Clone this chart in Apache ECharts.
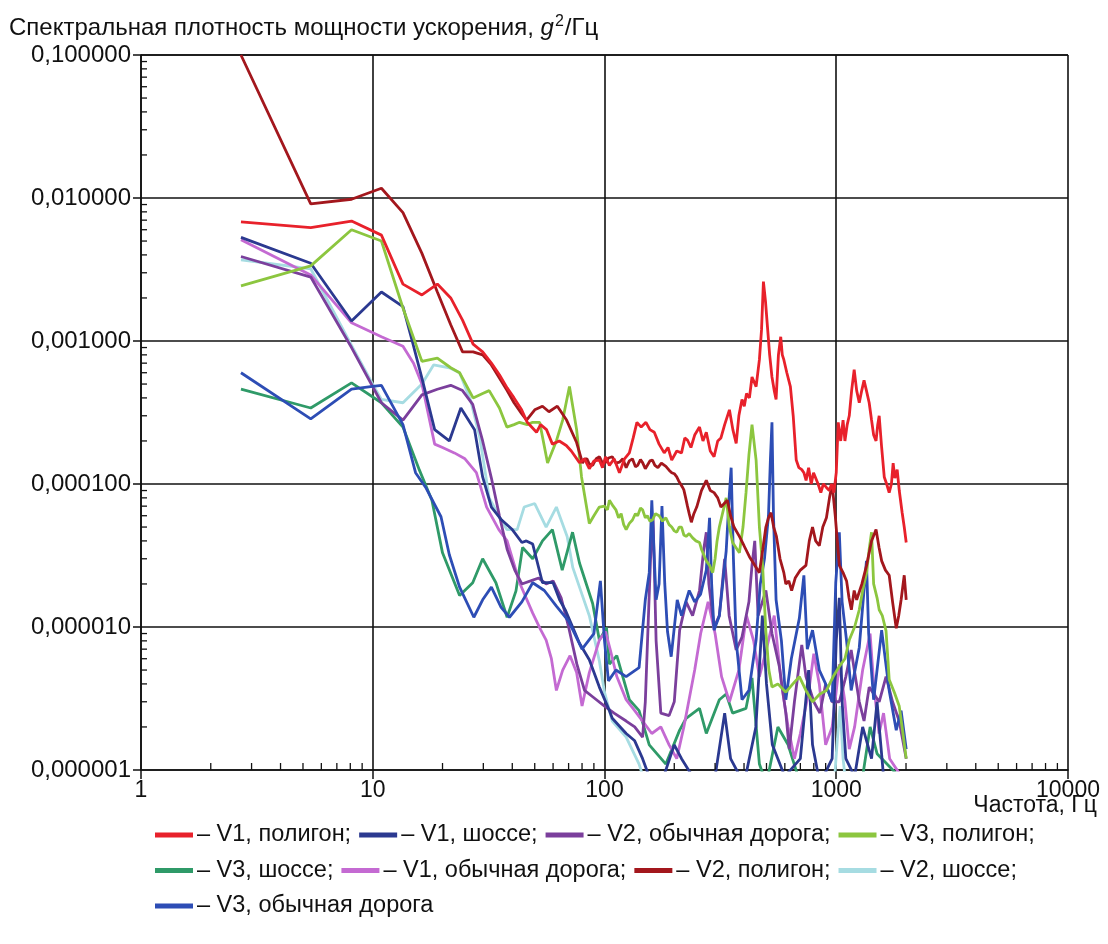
<!DOCTYPE html>
<html>
<head>
<meta charset="utf-8">
<script src="https://cdn.jsdelivr.net/npm/echarts@6/dist/echarts.min.js"></script>
<style>
  html, body { margin: 0; padding: 0; background: #fff; }
  #chart { width: 1108px; height: 944px; }
</style>
</head>
<body>
<div id="chart"></div>
<script>
// Acceleration power spectral density, g^2/Hz, pairs of [frequency Hz, PSD]
const v1Polygon = [[2.7,0.0068],[5.4,0.0062],[8.1,0.0069],[10.9,0.0055],[13.5,0.0025],[16.3,0.0021],[19,0.0025],[21.7,0.0020],[24.4,0.0014],[27.1,0.00095],[29.8,0.00084],[32.5,0.0007],[35.2,0.00058],[38,0.00047],[40.7,0.0004],[43.9,0.00033],[46.4,0.00027],[50.9,0.00023],[53,0.00026],[56.2,0.00024],[59.6,0.00019],[63.8,0.0002],[68.4,0.000186],[71.9,0.00017],[78,0.000141],[82,0.00015],[86,0.000128],[90,0.000145],[95,0.000147],[98,0.00013],[101,0.000155],[105,0.000135],[110,0.00015],[116,0.00012],[122,0.00015],[128,0.000165],[133,0.00021],[138,0.00027],[144,0.00025],[151,0.00027],[157,0.00024],[164,0.00023],[172,0.00019],[181,0.000165],[188,0.00018],[195,0.000147],[205,0.00017],[215,0.000165],[222,0.00021],[228,0.000203],[236,0.00018],[245,0.00022],[257,0.00025],[266,0.0002],[275,0.00023],[286,0.00017],[297,0.000155],[308,0.0002],[318,0.00021],[330,0.00026],[346,0.00033],[358,0.00024],[370,0.000192],[380,0.0003],[392,0.00039],[401,0.00035],[410,0.00043],[422,0.0004],[433,0.00056],[451,0.00048],[466,0.00074],[476,0.0012],[485,0.0026],[495,0.0019],[505,0.00125],[516,0.0008],[528,0.00056],[540,0.00045],[550,0.00039],[563,0.0008],[576,0.00107],[585,0.0008],[594,0.00074],[612,0.0006],[634,0.00048],[652,0.0003],[672,0.000147],[690,0.00013],[710,0.000126],[725,0.00012],[741,0.000106],[760,0.00013],[780,0.0001],[798,0.00012],[814,0.00012],[835,0.0001],[858,0.000087],[880,0.0001],[905,0.000095],[933,0.00009],[955,0.0001],[977,0.000087],[1000,0.00012],[1020,0.00027],[1045,0.0002],[1070,0.00028],[1090,0.0002],[1115,0.00026],[1138,0.0003],[1165,0.00045],[1195,0.00063],[1225,0.00045],[1257,0.00037],[1288,0.00045],[1318,0.00053],[1350,0.00045],[1387,0.00037],[1420,0.00028],[1450,0.00022],[1485,0.0002],[1510,0.00026],[1532,0.0003],[1570,0.00018],[1611,0.000112],[1650,0.0001],[1692,0.000087],[1730,0.0001],[1760,0.00014],[1790,0.00011],[1832,0.000126],[1870,0.00009],[1925,0.000063],[1965,0.00005],[2004,0.000039]];

const v2Polygon = [[2.7,0.1],[5.4,0.0091],[8.1,0.0098],[10.9,0.0117],[13.5,0.0079],[16.3,0.0041],[19,0.0022],[21.7,0.0013],[24.4,0.00084],[27.1,0.00084],[29.8,0.0008],[32.5,0.00068],[35.2,0.00055],[38,0.00045],[40.7,0.00037],[43.9,0.00031],[46.1,0.00028],[50,0.00033],[54,0.00035],[57.6,0.00032],[62.6,0.00035],[68.6,0.00028],[75.8,0.000195],[80.4,0.00014],[82,0.00015],[84,0.00015],[86,0.000138],[88.9,0.000135],[92,0.00015],[95.2,0.000155],[98,0.00014],[101.5,0.000142],[104,0.000152],[108,0.000155],[112,0.00014],[116,0.000142],[120,0.00015],[124,0.00013],[128,0.000145],[132,0.00015],[136,0.000132],[139,0.000135],[143,0.000148],[146,0.000141],[150,0.000128],[153,0.00013],[157,0.000145],[161,0.000147],[165,0.000135],[170,0.00013],[176,0.00014],[184,0.000133],[190,0.000125],[195,0.00012],[200,0.000118],[205,0.000112],[209,0.000105],[213,0.0001],[217,0.000095],[220,0.000091],[224,0.00008],[228,0.00007],[232,0.000062],[237,0.000054],[243,0.000062],[250,0.000069],[262,0.00009],[275,0.000106],[286,0.00009],[297,0.000087],[308,0.00008],[318,0.000069],[339,0.000077],[350,0.00006],[362,0.00005],[382,0.000043],[400,0.000037],[422,0.000031],[445,0.000027],[466,0.000024],[482,0.000035],[497,0.00005],[510,0.000058],[523,0.000063],[537,0.00005],[552,0.000043],[572,0.00003],[594,0.000024],[606,0.00002],[624,0.000021],[642,0.000018],[665,0.000022],[700,0.000025],[740,0.000027],[765,0.00004],[790,0.00005],[815,0.00004],[845,0.000037],[875,0.00005],[907,0.000058],[935,0.00008],[960,0.0001],[990,0.00006],[1031,0.000027],[1070,0.000024],[1108,0.000021],[1135,0.000016],[1162,0.0000132],[1195,0.000018],[1225,0.0000155],[1290,0.00002],[1352,0.000027],[1420,0.00004],[1485,0.000048],[1530,0.000036],[1570,0.000029],[1630,0.000025],[1692,0.000023],[1750,0.000015],[1815,0.0000098],[1860,0.000012],[1905,0.0000155],[1965,0.000023],[2004,0.0000155]];

const v3Polygon = [[2.7,0.00243],[5.4,0.00335],[8.1,0.006],[10.9,0.005],[13.5,0.0017],[16.3,0.00072],[19,0.00076],[21.7,0.00065],[23.7,0.0006],[27.1,0.0004],[29.8,0.00043],[31.8,0.00045],[35.2,0.00034],[37.9,0.00025],[40.7,0.00026],[43,0.00027],[46.4,0.00026],[49,0.00027],[52.5,0.00027],[56.8,0.00014],[62,0.0002],[66,0.00028],[70.6,0.00048],[75.8,0.00024],[79.6,0.000112],[86,0.000053],[90,0.00006],[95,0.000069],[100,0.00007],[103,0.000066],[105,0.000077],[109,0.00007],[112,0.000066],[115,0.000058],[118,0.000062],[121,0.000052],[124,0.000048],[128,0.000053],[132,0.000056],[136,0.000062],[139,0.00006],[143,0.000068],[146,0.000066],[150,0.000058],[153,0.00006],[157,0.000055],[161,0.000056],[166,0.000062],[172,0.00006],[178,0.000055],[184,0.000058],[190,0.000052],[195,0.00005],[200,0.000047],[205,0.000046],[210,0.00005],[215,0.00005],[220,0.000044],[225,0.000043],[232,0.000045],[240,0.000042],[248,0.00004],[257,0.000039],[262,0.000035],[266,0.000033],[270,0.000031],[275,0.000029],[284,0.000027],[293,0.000024],[300,0.00003],[306,0.00004],[313,0.00005],[335,0.00008],[346,0.00005],[357,0.000039],[382,0.000033],[396,0.00005],[408,0.000087],[420,0.00016],[433,0.00026],[451,0.000147],[466,0.00005],[481,0.000027],[497,0.0000093],[512,0.000005],[528,0.0000038],[560,0.000004],[606,0.0000035],[650,0.000004],[693,0.0000045],[740,0.0000036],[790,0.000003],[850,0.0000034],[907,0.0000036],[970,0.0000045],[1031,0.0000053],[1090,0.000006],[1138,0.0000081],[1200,0.00001],[1257,0.0000132],[1300,0.000018],[1352,0.000024],[1387,0.000035],[1420,0.000046],[1450,0.00002],[1500,0.000016],[1532,0.0000132],[1580,0.000012],[1640,0.0000094],[1692,0.0000043],[1780,0.0000035],[1869,0.0000028],[1940,0.0000018],[2004,0.0000012]];

const v1Highway = [[2.7,0.0053],[5.4,0.0035],[8.1,0.00138],[10.9,0.0022],[13.5,0.00174],[14.8,0.001],[16.3,0.00055],[18.5,0.00024],[21.4,0.0002],[24,0.00034],[27.5,0.00024],[29.8,0.000112],[32.5,0.000069],[36,0.000056],[40,0.000048],[44,0.000039],[46,0.00004],[49,0.000038],[54,0.0000204],[60,0.0000204],[64,0.0000155],[68,0.000013],[73,0.0000099],[78,0.0000077],[86,0.0000059],[95,0.0000038],[105,0.0000026],[108,0.0000023],[124,0.0000018],[135,0.0000016],[146,0.0000012],[160,0.0000008],[180,0.0000009],[200,0.0000015],[215,0.0000012],[240,0.0000009],[300,0.0000009],[330,0.0000025],[350,0.0000012],[400,0.0000008],[450,0.000002],[480,0.000012],[500,0.000004],[530,0.0000015],[600,0.0000009],[700,0.0000012],[760,0.000005],[790,0.0000015],[850,0.0000008],[960,0.0000012],[1000,0.000008],[1031,0.000016],[1060,0.000003],[1100,0.0000012],[1200,0.0000009],[1300,0.000002],[1420,0.0000012],[1500,0.000003],[1600,0.0000009],[2004,0.0000008]];

const v3Road = [[2.7,0.0006],[5.4,0.000285],[8.1,0.00046],[9.8,0.00048],[10.9,0.00049],[13.5,0.00026],[15.3,0.00012],[16.9,0.000095],[19.7,0.000059],[21.4,0.000032],[23.7,0.000019],[27.3,0.0000117],[29.8,0.0000155],[32.5,0.000019],[35.8,0.0000137],[38.9,0.0000117],[44,0.000015],[49,0.0000204],[55,0.000018],[62,0.000014],[70,0.000011],[80,0.000007],[90,0.000009],[96,0.000021],[100,0.000008],[104,0.0000042],[112,0.000005],[124,0.0000045],[141,0.0000052],[150,0.0000155],[156,0.000024],[160,0.000077],[164,0.00003],[167,0.0000155],[172,0.00002],[177,0.00007],[182,0.00002],[187,0.0000093],[194,0.0000062],[206,0.0000155],[215,0.000012],[232,0.000018],[245,0.000015],[260,0.000017],[275,0.000025],[284,0.000058],[290,0.00002],[297,0.0000095],[313,0.000012],[335,0.000034],[345,0.00008],[352,0.00013],[360,0.00003],[370,0.000008],[392,0.0000031],[420,0.0000036],[451,0.0000081],[470,0.00002],[490,0.00003],[510,0.00006],[520,0.00015],[528,0.00027],[536,0.00006],[550,0.0000155],[580,0.000008],[606,0.0000031],[640,0.000006],[693,0.0000115],[725,0.000023],[750,0.000007],[790,0.0000095],[845,0.000005],[900,0.000004],[960,0.000003],[995,0.0000204],[1031,0.000046],[1060,0.000015],[1110,0.0000078],[1160,0.0000036],[1257,0.0000072],[1350,0.000029],[1380,0.000009],[1450,0.0000031],[1570,0.0000095],[1692,0.0000036],[1815,0.0000019],[1905,0.0000026],[2004,0.0000014]];

const v2Road = [[2.7,0.0039],[5.4,0.0028],[8.1,0.0009],[10.9,0.00037],[13.5,0.00028],[16.3,0.00042],[19,0.00046],[21.7,0.00049],[24.4,0.00045],[27,0.00036],[29.8,0.0002],[32.5,0.00011],[35.2,0.00006],[38,0.000035],[41,0.000025],[44,0.00002],[48,0.000021],[52,0.000022],[56,0.00002],[60,0.000021],[65,0.000016],[70,0.00001],[76,0.0000055],[82,0.0000036],[90,0.0000032],[100,0.0000028],[110,0.0000025],[124,0.0000022],[135,0.000002],[146,0.0000017],[150,0.000003],[158,0.00003],[162,0.00006],[167,0.000008],[175,0.0000025],[190,0.0000024],[200,0.000003],[211,0.0000095],[225,0.000015],[240,0.000012],[257,0.000018],[268,0.000035],[275,0.000046],[282,0.00002],[297,0.00001],[313,0.000012],[330,0.00003],[345,0.000012],[370,0.0000069],[392,0.0000085],[420,0.000015],[433,0.000027],[445,0.00004],[460,0.000012],[497,0.000018],[528,0.000009],[568,0.0000053],[606,0.0000025],[627,0.0000014],[660,0.000003],[710,0.0000075],[740,0.0000045],[800,0.000003],[850,0.0000025],[900,0.000004],[960,0.000003],[1031,0.000003],[1100,0.0000045],[1160,0.0000069],[1257,0.000003],[1318,0.0000022],[1387,0.0000038],[1532,0.000003],[1640,0.0000045],[1750,0.000003],[1869,0.0000022],[2004,0.0000012]];

const v1Road = [[2.7,0.0051],[5.4,0.0029],[8.1,0.00134],[10.9,0.00107],[13.5,0.00092],[15,0.0007],[16.3,0.0005],[18.5,0.00019],[20,0.00018],[22.5,0.000165],[25,0.00015],[28,0.00012],[31,0.000069],[35,0.000048],[38,0.00004],[43,0.0000204],[49,0.0000125],[53,0.0000096],[56,0.0000081],[59,0.000006],[62,0.0000036],[66,0.000005],[71,0.0000063],[75.8,0.0000048],[80,0.0000028],[86,0.0000048],[95,0.0000081],[101,0.0000093],[106,0.0000069],[113,0.0000045],[124,0.0000031],[135,0.0000026],[146,0.0000022],[160,0.0000018],[175,0.000002],[190,0.0000015],[205,0.0000012],[220,0.000002],[245,0.000005],[260,0.000009],[280,0.000015],[300,0.000009],[320,0.0000045],[346,0.000003],[380,0.000005],[410,0.000012],[440,0.000008],[466,0.0000045],[500,0.000007],[540,0.000012],[580,0.000004],[620,0.000002],[660,0.0000012],[700,0.0000018],[760,0.0000035],[800,0.0000065],[845,0.000004],[900,0.0000015],[960,0.000002],[1031,0.0000055],[1090,0.000003],[1138,0.0000014],[1200,0.000002],[1300,0.000005],[1400,0.000009],[1450,0.000004],[1530,0.0000018],[1600,0.0000025],[1700,0.0000012],[2004,0.0000008]];

const v2Highway = [[2.7,0.0037],[5.4,0.0032],[8.1,0.00093],[10.2,0.00047],[10.9,0.00039],[13.5,0.00037],[16.3,0.0005],[18.3,0.00068],[21.4,0.00065],[23.7,0.0006],[26.5,0.00038],[29,0.00021],[31.8,0.00008],[35,0.00006],[37.9,0.000048],[42,0.000048],[45,0.000069],[50,0.000073],[56,0.00005],[62,0.000069],[69,0.000043],[73,0.000026],[78,0.000019],[86,0.000012],[95,0.0000058],[100,0.0000035],[108,0.0000022],[124,0.0000017],[141,0.0000011],[150,0.0000008],[980,0.0000008],[1010,0.0000016],[1040,0.0000028],[1070,0.0000012],[1100,0.0000008],[2004,0.0000008]];

const v3Highway = [[2.7,0.00046],[5.4,0.00034],[8.1,0.00051],[10.9,0.00037],[13.5,0.00025],[15.9,0.000125],[18,0.000077],[20,0.000033],[23.7,0.0000166],[27,0.0000204],[29.8,0.00003],[34,0.0000204],[38,0.0000117],[41.5,0.0000179],[44.3,0.000036],[49,0.00003],[54,0.00004],[59.6,0.000048],[65.7,0.000025],[72.8,0.000046],[78,0.000028],[88.9,0.0000146],[95,0.0000081],[102,0.0000099],[105,0.0000055],[113,0.0000063],[128,0.0000031],[141,0.0000026],[156,0.0000015],[184,0.0000011],[211,0.0000019],[225,0.0000023],[257,0.0000027],[275,0.0000018],[313,0.0000031],[335,0.0000034],[357,0.0000025],[408,0.0000027],[433,0.0000044],[466,0.0000011],[500,0.0000008],[560,0.000002],[620,0.0000015],[700,0.0000008],[1300,0.0000009],[1400,0.000002],[1500,0.0000013],[2004,0.0000008]];

// Axis ticks
const xMajorTicks = [1, 10, 100, 1000, 10000];
const yMajorTicks = [0.000001, 0.00001, 0.0001, 0.001, 0.01, 0.1];
const minorSteps = [2, 3, 4, 5, 6, 7, 8, 9];

// Legend rows
const legendRows = [
  ['V1, полигон', 'V1, шоссе', 'V2, обычная дорога', 'V3, полигон'],
  ['V3, шоссе', 'V1, обычная дорога', 'V2, полигон', 'V2, шоссе'],
  ['V3, обычная дорога']
];

const FONT = '"Liberation Sans", Arial, sans-serif';
const TEXT_SIZE = 23;

// Series in drawing order (later ones on top)
const seriesDefs = [
  { name: 'V2, шоссе', data: v2Highway, color: '#a6dce2' },
  { name: 'V3, шоссе', data: v3Highway, color: '#2f9a68' },
  { name: 'V1, обычная дорога', data: v1Road, color: '#c46ad2' },
  { name: 'V2, обычная дорога', data: v2Road, color: '#7b3f9c' },
  { name: 'V1, шоссе', data: v1Highway, color: '#2b3990' },
  { name: 'V3, обычная дорога', data: v3Road, color: '#2d4db5' },
  { name: 'V3, полигон', data: v3Polygon, color: '#8cc63f' },
  { name: 'V2, полигон', data: v2Polygon, color: '#a3171d' },
  { name: 'V1, полигон', data: v1Polygon, color: '#e8212b' }
];

const xMinor = [];
xMajorTicks.slice(0, -1).forEach(d => minorSteps.forEach(s => xMinor.push([d * s, yMajorTicks[0]])));
const yMinor = [];
yMajorTicks.slice(0, -1).forEach(d => minorSteps.forEach(s => yMinor.push([xMajorTicks[0], d * s])));

const lastName = 'V3, обычная дорога';

const chart = echarts.init(document.getElementById('chart'), null, { renderer: 'canvas' });

const lineSeries = seriesDefs.map(d => ({
  name: d.name,
  type: 'line',
  data: d.data,
  showSymbol: false,
  symbol: 'none',
  color: d.color,
  lineStyle: { color: d.color, width: 2.8 },
  clip: true,
  z: 3
}));

const tickSeries = [
  {
    type: 'custom',
    name: 'xMinorTicks',
    data: xMinor,
    silent: true,
    z: 4,
    renderItem: (params, api) => {
      const p = api.coord([api.value(0), api.value(1)]);
      return { type: 'line', shape: { x1: p[0], y1: p[1], x2: p[0], y2: p[1] - 7 }, style: { stroke: '#111', lineWidth: 1.3 } };
    }
  },
  {
    type: 'custom',
    name: 'yMinorTicks',
    data: yMinor,
    silent: true,
    z: 4,
    renderItem: (params, api) => {
      const p = api.coord([api.value(0), api.value(1)]);
      return { type: 'line', shape: { x1: p[0], y1: p[1], x2: p[0] + 6, y2: p[1] }, style: { stroke: '#111', lineWidth: 1.3 } };
    }
  }
];

const legends = legendRows.map((row, i) => ({
  data: row,
  left: 150,
  top: 818 + i * 35.5,
  orient: 'horizontal',
  icon: 'rect',
  itemWidth: 38,
  itemHeight: 5,
  itemGap: 8,
  selectedMode: false,
  textStyle: { fontFamily: FONT, fontSize: 23.5, color: '#111', padding: [0, 0, 0, -1] },
  formatter: name => '– ' + name + (name === lastName ? '' : ';')
}));

chart.setOption({
  animation: false,
  backgroundColor: '#fff',
  title: {
    left: 4,
    top: 9,
    text: '{t|Спектральная плотность мощности ускорения, }{g|g}{s|2}{t|/Гц}',
    textStyle: {
      fontWeight: 'normal',
      rich: {
        t: { fontFamily: FONT, fontSize: 24, fontWeight: 'normal', color: '#111' },
        g: { fontFamily: FONT, fontSize: 24, fontWeight: 'normal', color: '#111', fontStyle: 'italic' },
        s: { fontFamily: FONT, fontSize: 16, fontWeight: 'normal', color: '#111', padding: [0, 1, 12, 1] }
      }
    }
  },
  legend: legends,
  grid: { left: 141, right: 40, top: 55, bottom: 174, containLabel: false },
  xAxis: {
    type: 'log',
    logBase: 10,
    min: xMajorTicks[0],
    max: xMajorTicks[xMajorTicks.length - 1],
    axisLine: { show: true, onZero: false, lineStyle: { color: '#111', width: 1.6 } },
    axisTick: { show: true, inside: false, length: 9, lineStyle: { color: '#111', width: 1.5 } },
    axisLabel: {
      fontFamily: FONT, fontSize: TEXT_SIZE, color: '#111', margin: 9,
      formatter: v => String(Math.round(v))
    },
    splitLine: { show: true, lineStyle: { color: '#111', width: 1.6 } }
  },
  yAxis: {
    type: 'log',
    logBase: 10,
    min: yMajorTicks[0],
    max: yMajorTicks[yMajorTicks.length - 1],
    axisLine: { show: true, onZero: false, lineStyle: { color: '#111', width: 1.6 } },
    axisTick: { show: true, inside: false, length: 8, lineStyle: { color: '#111', width: 1.5 } },
    axisLabel: {
      fontFamily: FONT, fontSize: 24, color: '#111', margin: 10,
      formatter: v => v.toFixed(6).replace('.', ',')
    },
    splitLine: { show: true, lineStyle: { color: '#111', width: 1.6 } }
  },
  graphic: [
    {
      type: 'text',
      right: 11,
      top: 794,
      style: { text: 'Частота, Гц', font: TEXT_SIZE + 'px ' + FONT, fill: '#111' }
    }
  ],
  series: lineSeries.concat(tickSeries)
});
</script>
</body>
</html>
